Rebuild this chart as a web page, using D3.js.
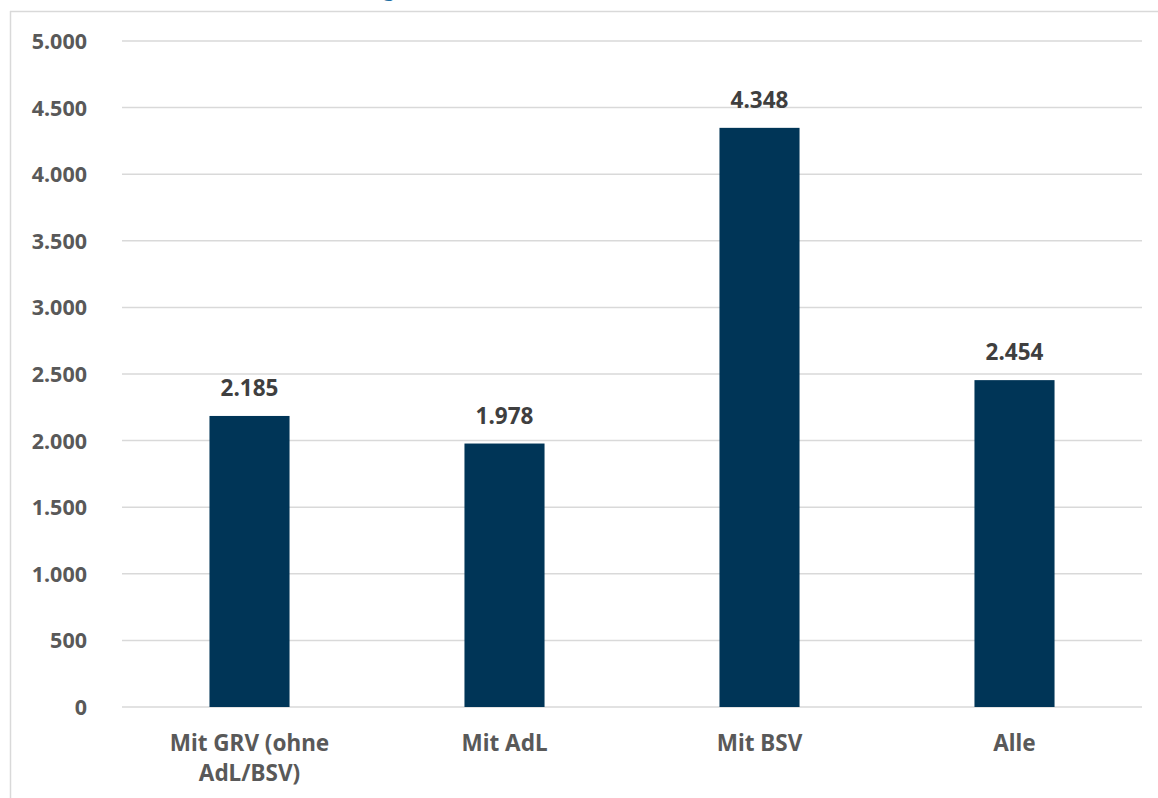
<!DOCTYPE html>
<html><head><meta charset="utf-8">
<script src="https://cdn.jsdelivr.net/npm/d3@7"></script>
<style>
html,body{margin:0;padding:0;background:#fff;}
svg{display:block;}
text{font-family:"Noto Sans",sans-serif;font-weight:700;fill:#595959;}
</style></head>
<body>
<svg id="c" width="1158" height="798"></svg>
<script>
const categories = [["Mit GRV (ohne","AdL/BSV)"],["Mit AdL"],["Mit BSV"],["Alle"]];
const values = [2185, 1978, 4348, 2454];
const valueLabels = ["2.185","1.978","4.348","2.454"];
const yTicks = [0,500,1000,1500,2000,2500,3000,3500,4000,4500,5000];
const yTickLabels = ["0","500","1.000","1.500","2.000","2.500","3.000","3.500","4.000","4.500","5.000"];

(function(){
const svg = d3.select("#c");
const W = 1158, H = 798;
const mLeft = 122, mRight = 1142, mTop = 41, mBottom = 707;

// frame
svg.append("line").attr("x1",10).attr("x2",W).attr("y1",11.5).attr("y2",11.5).attr("stroke","#d9d9d9").attr("stroke-width",1.5);
svg.append("line").attr("x1",10.5).attr("x2",10.5).attr("y1",11).attr("y2",H).attr("stroke","#d9d9d9").attr("stroke-width",1.5);
// cut-off title fragment
svg.append("text").attr("x",383).attr("y",-4).text("g").style("fill","#1f6fa3").style("font-size","20px");

const x = d3.scaleBand().domain(d3.range(categories.length)).range([mLeft,mRight]).paddingInner(0.686).paddingOuter(0.343);
const y = d3.scaleLinear().domain([0,5000]).range([mBottom,mTop]);

const grid = svg.append("g");
grid.selectAll("line").data(yTicks).join("line")
  .attr("x1",mLeft).attr("x2",mRight)
  .attr("y1",d=>y(d)).attr("y2",d=>y(d))
  .attr("stroke","#d9d9d9").attr("stroke-width",1.5);

const yAxis = d3.axisLeft(y).tickValues(yTicks).tickFormat((d,i)=>yTickLabels[i]).tickSize(0).tickPadding(0);
const ya = svg.append("g").attr("transform","translate(87,0)").call(yAxis);
ya.select(".domain").remove();
ya.selectAll("text").style("font-size","21.5px").style("font-family","'Noto Sans',sans-serif").style("fill","#595959").style("font-weight","700").attr("dy","0.35em");

svg.append("g").selectAll("rect").data(values).join("rect")
  .attr("x",(d,i)=>x(i)).attr("width",x.bandwidth())
  .attr("y",d=>y(d)).attr("height",d=>y(0)-y(d))
  .attr("fill","#003557");

svg.append("g").selectAll("text").data(values).join("text")
  .attr("x",(d,i)=>x(i)+x.bandwidth()/2).attr("y",d=>y(d)-20)
  .attr("text-anchor","middle").style("font-size","22.5px").style("fill","#3f3f3f")
  .text((d,i)=>valueLabels[i]);

const xl = svg.append("g").selectAll("text").data(categories).join("text")
  .attr("x",(d,i)=>x(i)+x.bandwidth()/2).attr("y",751)
  .attr("text-anchor","middle").style("font-size","22.5px");
xl.each(function(lines){
  const t = d3.select(this);
  lines.forEach((l,j)=>t.append("tspan").attr("x",t.attr("x")).attr("dy",j===0?0:30).text(l));
});
})();
</script>
</body></html>
